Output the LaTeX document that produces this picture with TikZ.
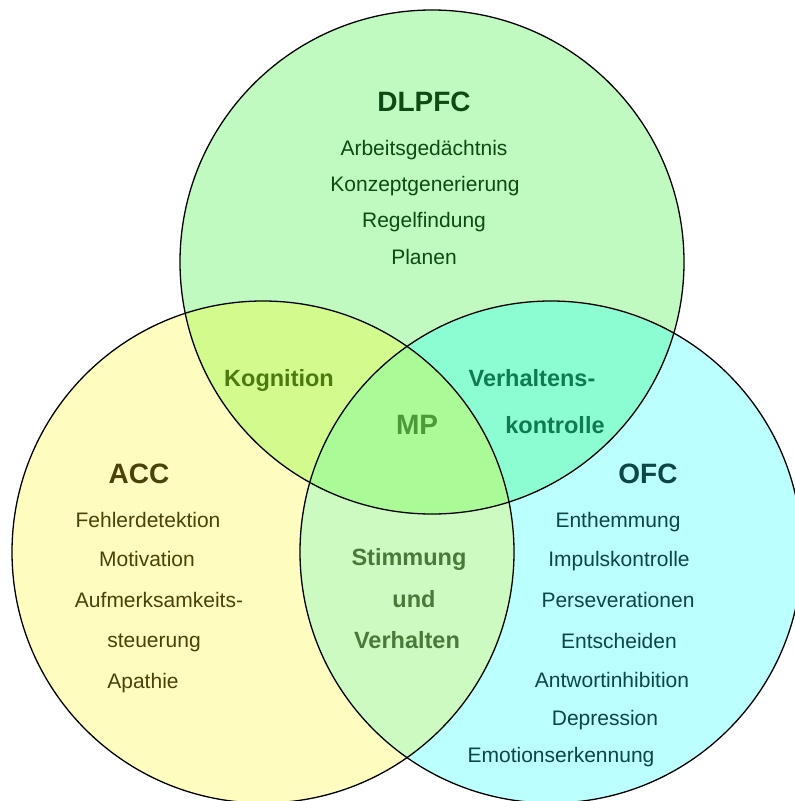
\documentclass[tikz,border=0pt]{standalone}
\usepackage{fontspec}
\setmainfont{Liberation Sans}
\usepackage{tikz}
\definecolor{DlpfcFill}{HTML}{C0FAC0}
\definecolor{AccFill}{HTML}{FFFCC0}
\definecolor{OfcFill}{HTML}{BCFFFF}
\definecolor{KogFill}{HTML}{D2FA8C}
\definecolor{VkFill}{HTML}{8CFCD2}
\definecolor{SvFill}{HTML}{CCFAC0}
\definecolor{MpFill}{HTML}{AAFA98}
\definecolor{DlpfcText}{HTML}{0E4A14}
\definecolor{AccText}{HTML}{4A4208}
\definecolor{OfcText}{HTML}{0C4646}
\definecolor{KogText}{HTML}{4A7A10}
\definecolor{VkText}{HTML}{107A50}
\definecolor{MpText}{HTML}{4A9A3A}
\definecolor{SvText}{HTML}{4A7A3A}

\begin{document}
\begin{tikzpicture}[x=1pt,y=-1pt,
  region/.style={line width=1.3pt,draw=black},
  title/.style={anchor=base,font=\fontsize{28}{30}\selectfont\bfseries},
  item/.style={anchor=base,font=\fontsize{21}{24}\selectfont},
  overlap/.style={anchor=base,font=\fontsize{23.5}{26}\selectfont\bfseries}]
  \useasboundingbox (0,0) rectangle (795,801);
  \clip (0,0) rectangle (795,801);
  \coordinate (D) at (432,262);
  \coordinate (A) at (263,552);
  \coordinate (O) at (551,552);
  % single areas
  \fill[DlpfcFill] (D) circle[radius=252pt];
  \fill[AccFill] (A) circle[radius=251pt];
  \fill[OfcFill] (O) circle[radius=251pt];
  % pairwise overlaps
  \begin{scope}
    \clip (D) circle[radius=252pt];
    \fill[KogFill] (A) circle[radius=251pt];
    \fill[VkFill] (O) circle[radius=251pt];
  \end{scope}
  \begin{scope}
    \clip (A) circle[radius=251pt];
    \fill[SvFill] (O) circle[radius=251pt];
    \clip (O) circle[radius=251pt];
    \fill[MpFill] (D) circle[radius=252pt];
  \end{scope}
  % outlines
  \draw[region] (D) circle[radius=252pt];
  \draw[region] (A) circle[radius=251pt];
  \draw[region] (O) circle[radius=251pt];

  % DLPFC
  \node[title,text=DlpfcText] (dlpfc) at (424,111) {DLPFC};
  \node[item,text=DlpfcText] (arbeit) at (424,155) {Arbeitsgedächtnis};
  \node[item,text=DlpfcText] (konzept) at (425,191) {Konzeptgenerierung};
  \node[item,text=DlpfcText] (regel) at (424,227) {Regelfindung};
  \node[item,text=DlpfcText] (planen) at (424,264) {Planen};

  % ACC
  \node[title,text=AccText] (acc) at (139,483) {ACC};
  \node[item,text=AccText] (fehler) at (148,527) {Fehlerdetektion};
  \node[item,text=AccText] (motiv) at (147,566) {Motivation};
  \node[item,text=AccText] (aufm) at (159,607) {Aufmerksamkeits-};
  \node[item,text=AccText] (steuer) at (154,647) {steuerung};
  \node[item,text=AccText] (apathie) at (143,688) {Apathie};

  % OFC
  \node[title,text=OfcText] (ofc) at (648,483) {OFC};
  \node[item,text=OfcText] (enthem) at (618,527) {Enthemmung};
  \node[item,text=OfcText] (impuls) at (619,566) {Impulskontrolle};
  \node[item,text=OfcText] (persev) at (618,607) {Perseverationen};
  \node[item,text=OfcText] (entsch) at (619,648) {Entscheiden};
  \node[item,text=OfcText] (antwort) at (612,687) {Antwortinhibition};
  \node[item,text=OfcText] (depr) at (605,725) {Depression};
  \node[item,text=OfcText] (emotion) at (561,762) {Emotionserkennung};

  % overlaps
  \node[overlap,text=KogText] (kog) at (279,386) {Kognition};
  \node[overlap,text=VkText] (verh) at (532,386) {Verhaltens-};
  \node[overlap,text=VkText] (kontr) at (555,433) {kontrolle};
  \node[title,text=MpText] (mp) at (417,434) {MP};
  \node[overlap,text=SvText] (stimm) at (409,565) {Stimmung};
  \node[overlap,text=SvText] (und) at (414,607) {und};
  \node[overlap,text=SvText] (verhalten) at (407,648) {Verhalten};
\end{tikzpicture}
\end{document}
